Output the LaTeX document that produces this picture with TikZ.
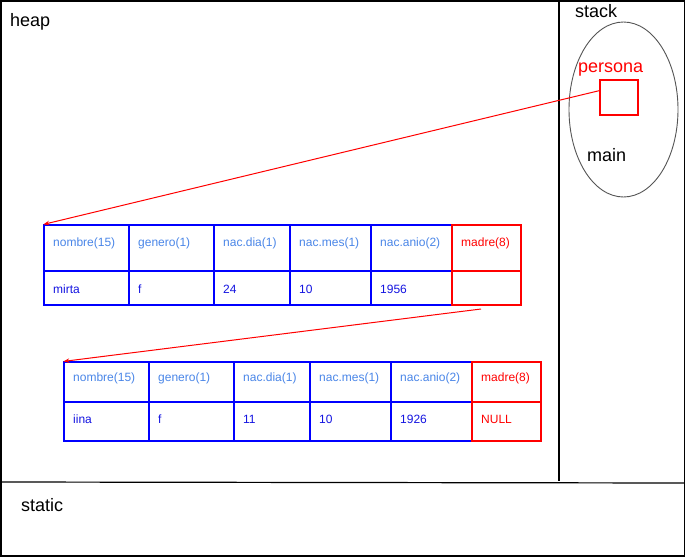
\documentclass[tikz,border=0pt]{standalone}
\usepackage{fontspec}
\setmainfont{Liberation Sans}
\usetikzlibrary{fit,calc,arrows.meta,shapes.geometric}
\definecolor{hdrblue}{RGB}{74,134,232}
\definecolor{datblue}{RGB}{20,20,225}
\definecolor{cellblue}{RGB}{0,0,255}
\definecolor{myred}{RGB}{255,0,0}
\definecolor{mygray}{RGB}{85,85,85}
\begin{document}
\begin{tikzpicture}[x=1pt,y=-1pt,
  bluecell/.style={draw=cellblue, line width=1.2pt, inner sep=0pt},
  redcell/.style={draw=myred, line width=1.2pt, inner sep=0pt},
  hdr/.style={anchor=base west, inner sep=0pt, text=hdrblue, font=\fontsize{12}{14}\selectfont},
  dat/.style={anchor=base west, inner sep=0pt, text=datblue, font=\fontsize{12}{14}\selectfont},
  rtxt/.style={anchor=base west, inner sep=0pt, text=myred, font=\fontsize{12}{14}\selectfont},
  lbl/.style={anchor=base west, inner sep=0pt, font=\fontsize{18}{21}\selectfont},
  ptr/.style={draw=myred, line width=1pt, -{Stealth[length=6pt,width=4.5pt]}}]
\useasboundingbox (0,0) rectangle (686,557);
\fill[white] (0,0) rectangle (686,557);

% memory areas
\draw[line width=1.5pt] (1,1) rectangle (684.5,556);
\coordinate (hl) at (1,482);
\coordinate (hr) at (684.5,483);
\draw[line width=1.2pt] (hl) -- (hr);
\coordinate (vt) at (559,1);
\coordinate (vb) at (559,481);
\draw[line width=1.2pt] (vt) -- (vb);

\node[lbl] (heap) at (10,26.5) {heap};
\node[lbl] (stack) at (575,17.5) {stack};
\node[lbl] (static) at (21,511) {static};

% stack frame
\node[draw=mygray, line width=0.9pt, ellipse, inner sep=0pt, minimum width=109pt, minimum height=175pt] (mainframe) at (623.5,109.5) {};
\node[lbl, text=myred] (persona) at (578,72.5) {persona};
\node[draw=myred, line width=1.2pt, inner sep=0pt, minimum width=38pt, minimum height=35pt] (pbox) at (619,97.5) {};
\node[lbl] (main) at (587,161.5) {main};

% table 1
\foreach \i/\xa/\xb/\h/\d in {1/44/129/{nombre(15)}/{mirta},2/129/214/{genero(1)}/{f},3/214/290/{nac.dia(1)}/{24},4/290/371/{nac.mes(1)}/{10},5/371/452/{nac.anio(2)}/{1956}}{
  \node[bluecell, fit={(\xa,225) (\xb,271)}] (t1h\i) {};
  \node[bluecell, fit={(\xa,271) (\xb,305)}] (t1d\i) {};
  \node[hdr] (t1h\i txt) at (\xa+9,246) {\h};
  \node[dat] (t1d\i txt) at (\xa+9,293) {\d};
}
\node[redcell, fit={(452,225) (521,271)}] (t1h6) {};
\node[redcell, fit={(452,271) (521,305)}] (t1d6) {};
\node[rtxt] (t1h6txt) at (461,246) {madre(8)};

% table 2
\foreach \i/\xa/\xb/\h/\d in {1/64/149/{nombre(15)}/{iina},2/149/234/{genero(1)}/{f},3/234/310/{nac.dia(1)}/{11},4/310/391/{nac.mes(1)}/{10},5/391/472/{nac.anio(2)}/{1926}}{
  \node[bluecell, fit={(\xa,362) (\xb,402)}] (t2h\i) {};
  \node[bluecell, fit={(\xa,402) (\xb,441)}] (t2d\i) {};
  \node[hdr] (t2h\i txt) at (\xa+9,381) {\h};
  \node[dat] (t2d\i txt) at (\xa+9,423) {\d};
}
\node[redcell, fit={(472,362) (541,402)}] (t2h6) {};
\node[redcell, fit={(472,402) (541,441)}] (t2d6) {};
\node[rtxt] (t2h6txt) at (481,381) {madre(8)};
\node[rtxt] (t2d6txt) at (481,423) {NULL};

% pointers
\draw[ptr] ($(pbox.north west)!0.31!(pbox.south west)$) -- (t1h1.north west);
\coordinate (a2) at (481,309);
\draw[ptr] (a2) -- (t2h1.north west);
\end{tikzpicture}
\end{document}
